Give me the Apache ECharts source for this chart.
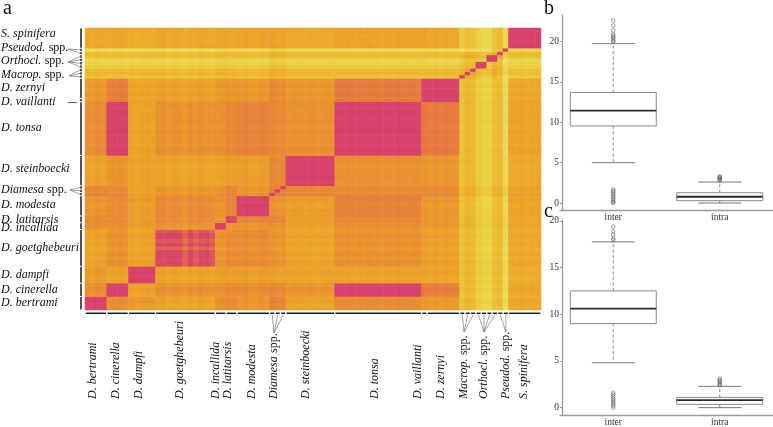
<!DOCTYPE html>
<html><head><meta charset="utf-8">
<style>html,body{margin:0;padding:0;background:#fff;overflow:hidden}#c{width:773px;height:427px}</style>
<script src="https://cdn.jsdelivr.net/npm/echarts@6/dist/echarts.min.js"></script>
</head><body><div id="c"></div>
<script>
// ---------- data ----------
const groupKeys = ['bert','cine','damp','goet','inca','lati','mode','diam','stei','tons','vail','zern','macr','orth','pseu','spin'];
const groupSizes = [4,4,5,11,2,2,6,3,9,16,1,6,3,4,2,6];
// between-group distances, upper triangle, each row starts at its own group
const distBert = [0.8,8.2,9.2,9.8,8.4,7.8,8.8,7.3,9.8,8,9,9,12,13.2,13,10.3];
const distCine = [0.8,9.8,8.4,8.4,7.8,8,7.8,8.8,0.8,6.3,6.3,12.2,13.2,13.2,10.3];
const distDamp = [0.8,9.8,9.4,9.4,9.4,9.8,9.8,9.8,9.8,9.8,12,13,13,11];
const distGoet = [1.5,8.8,7.8,7.8,8.8,9.8,8.4,9.4,9.4,12,13,13,10.3];
const distInca = [0.8,8.8,8.8,8.8,9.8,8.4,9,9,11.5,12.6,12.6,10.3];
const distLati = [0.8,7.2,7.3,9.4,7.4,8.8,8.8,11.5,12.6,12.6,10.3];
const distMode = [0.8,8.8,9.4,6.8,8.8,8.8,12,13,13,9.8];
const distDiam = [7,7.8,7.8,7.8,7.8,11,12,12,9.8];
const distStei = [0.8,8.4,8.8,8.8,12,13,13,10.5];
const distTons = [0.8,6,6,12,13,13.2,9.8];
const distVail = [0.8,1.2,12,13,13,9.8];
const distZern = [0.8,12,13,13,10.2];
const distMacr = [10,10.5,12.5,13];
const distOrth = [10.5,11.5,13.5];
const distPseu = [11,13];
const distSpin = [0.8];
const distRows = [distBert,distCine,distDamp,distGoet,distInca,distLati,distMode,distDiam,distStei,distTons,distVail,distZern,distMacr,distOrth,distPseu,distSpin];
// per-sample shifts (striping seen in rows and columns), one list per group
const shiftBert = [0,.3,-.2,.1];
const shiftCine = [.3,0,-.3,.2];
const shiftDamp = [0,.3,0,-.2,.1];
const shiftGoet = [0,-.2,.4,0,.2,.7,0,.3,-.2,.1,.4];
const shiftInca = [.1,-.1];
const shiftLati = [0,.2];
const shiftMode = [.1,-.2,.3,.4,-.1,.1];
const shiftDiam = [-.3,.1,0];
const shiftStei = [.1,-.1,0,.1,-.1,.2,.1,-.1,.1];
const shiftTons = [.1,0,-.1,.2,0,.2,-.1,.1,.3,0,.1,-.1,.1,.2,0,.1];
const shiftVail = [0];
const shiftZern = [.3,-.1,.4,0,.2,.4];
const shiftMacr = [1.5,0,.4];
const shiftOrth = [1.5,2.5,2.5,0];
const shiftPseu = [-.5,3.5];
const shiftSpin = [0,.2,-.1,.3,.1,-.1];
const shifts = [shiftBert,shiftCine,shiftDamp,shiftGoet,shiftInca,shiftLati,shiftMode,shiftDiam,shiftStei,shiftTons,shiftVail,shiftZern,shiftMacr,shiftOrth,shiftPseu,shiftSpin];
// stripes inside the D. goetghebeuri block
const goetStripes = [0,.8,0,0,.5,4.5,0,3,.5,0,2.5];
// species blocks among the last spp. samples (samples with the same letter are conspecific)
const sppBlocks = ['a','b','c','d','d','e','e','f','g'];
// box plots: [low whisker, q1, median, q3, high whisker]
const boxCategories = ['inter','intra'];
const boxB = [[5.0,9.55,11.44,13.7,19.75],[0,0.29,0.78,1.28,2.6]];
const boxC = [[4.8,9.0,10.6,12.5,17.75],[0,0.35,0.8,1.09,2.28]];
const outB = [[22.6,22,21.4,20.9,20.7,20.5,20.3,20.1,20,1.7,1.5,1.3,1.1,.9,.7,.5,.3,.1,0],[3.3,3.2,3.1,3,2.9,2.8]];
const outC = [[19.4,18.9,18.5,18.1,17.95,1.6,1.4,1.2,1,.8,.6,.4,.2,0],[3.1,2.95,2.8,2.65,2.5,2.4]];
const yTicks = [0,5,10,15,20];
const colorStops = ['#d63a6e','#da4b64','#e0644f','#e6783f','#e88a33','#eca327','#ecb42c','#ebc638','#ebd548','#eee070','#f4ee9c'];
// ---------- text and layout ----------
const leftLabels = [['S. spinifera',34],['Pseudod.',47.5,'spp.'],['Orthocl.',61,'spp.'],['Macrop.',75,'spp.'],['D. zernyi',88],['D. vaillanti',102],['D. tonsa',128],['D. steinboecki',169],['Diamesa',189.5,'spp.'],['D. modesta',205],['D. latitarsis',219.5],['D. incallida',228],['D. goetghebeuri',248],['D. dampfi',275],['D. cinerella',290],['D. bertrami',303]];
const bottomLabels = [['D. bertrami',93],['D. cinerella',116],['D. dampfi',139],['D. goetghebeuri',180],['D. incallida',216],['D. latitarsis',228],['D. modesta',252],['Diamesa',274,'spp.'],['D. steinboecki',306],['D. tonsa',375],['D. vaillanti',418],['D. zernyi',441],['Macrop.',464,'spp.'],['Orthocl.',484,'spp.'],['Pseudod.',506,'spp.'],['S. spinifera',524]];
const leaderTargets = {diam:[[70,190],[274,333]],macr:[[69,76],[464,332]],orth:[[68,62],[484,332]],pseu:[[68,49],[506,332]]};
const H = {left:85,top:28,width:456,height:282};

// ---------- build ----------
const sampleGroup=[], sampleShift=[], sampleNames=[], groupStart=[];
groupSizes.forEach((n,g)=>{groupStart.push(sampleGroup.length);for(let k=0;k<n;k++){sampleGroup.push(g);sampleShift.push(shifts[g][k]);sampleNames.push(groupKeys[g]+'_'+(k+1));}});
const N=sampleGroup.length, sppFirst=groupStart[12], goet=3;
function dist(a,b){return a<=b?distRows[a][b-a]:distRows[b][a-b];}
const cells=[];
for(let i=0;i<N;i++)for(let j=0;j<N;j++){
  const gi=sampleGroup[i],gj=sampleGroup[j];let v=dist(gi,gj);
  if(i>=sppFirst&&i<sppFirst+9&&j>=sppFirst&&j<sppFirst+9&&sppBlocks[i-sppFirst]===sppBlocks[j-sppFirst])v=0.8;
  else if(gi===7&&gj===7&&i===j)v=0.8;
  else if(gi===goet&&gj===goet)v=1.2+goetStripes[i-groupStart[goet]]*.6+goetStripes[j-groupStart[goet]]*.6;
  else if(v>1.3)v=v+sampleShift[i]+sampleShift[j];
  cells.push([i,j,v]);
}
const segs=[];
groupSizes.forEach((n,g)=>{const key=groupKeys[g];
  if(leaderTargets[key]){for(let k=0;k<n;k++)segs.push([groupStart[g]+k,groupStart[g]+k+1,g]);}
  else segs.push([groupStart[g],groupStart[g]+n,g]);});
const leaders=[];
Object.keys(leaderTargets).forEach(key=>{const g=groupKeys.indexOf(key);for(let k=0;k<groupSizes[g];k++)leaders.push([groupStart[g]+k+.5,g]);});
const segStyle={stroke:'#1a1a1a',lineWidth:1.5};
function renderSegs(horizontal){return function(params,api){
  const c0=api.coord([0,0]),cw=api.size([1,1]);
  const a=api.value(0),b=api.value(1);
  if(horizontal){const x0=c0[0]-cw[0]/2;
    return {type:'line',shape:{x1:x0+a*cw[0]+.7,x2:x0+b*cw[0]-.7,y1:313.3,y2:313.3},style:segStyle};}
  const y0=c0[1]+cw[1]/2;
  return {type:'line',shape:{x1:81,x2:81,y1:y0-a*cw[1]-.5,y2:y0-b*cw[1]+.5},style:segStyle};
};}
function renderLeaders(params,api){
  const c0=api.coord([0,0]),cw=api.size([1,1]);
  const s=api.value(0),key=groupKeys[api.value(1)],t=leaderTargets[key];
  const px=c0[0]-cw[0]/2+s*cw[0],py=c0[1]+cw[1]/2-s*cw[1];
  const st={stroke:'#777',lineWidth:.7,fill:'none'};
  return {type:'group',children:[
    {type:'line',shape:{x1:80,y1:py,x2:t[0][0],y2:t[0][1]},style:st},
    {type:'line',shape:{x1:px,y1:315,x2:t[1][0],y2:t[1][1]},style:st}]};
}
function renderBox(params,api){
  const cat=api.value(0),low=api.coord([cat,api.value(1)]),q1=api.coord([cat,api.value(2)]),med=api.coord([cat,api.value(3)]),q3=api.coord([cat,api.value(4)]),high=api.coord([cat,api.value(5)]);
  const x=low[0],hb=43,hc=21.5;
  const grey={stroke:'#777',lineWidth:1,fill:'none'};
  return {type:'group',children:[
    {type:'line',shape:{x1:x,y1:q3[1],x2:x,y2:high[1]},style:{stroke:'#888',lineWidth:1,lineDash:[3,2.5]}},
    {type:'line',shape:{x1:x,y1:q1[1],x2:x,y2:low[1]},style:{stroke:'#888',lineWidth:1,lineDash:[3,2.5]}},
    {type:'line',shape:{x1:x-hc,y1:high[1],x2:x+hc,y2:high[1]},style:grey},
    {type:'line',shape:{x1:x-hc,y1:low[1],x2:x+hc,y2:low[1]},style:grey},
    {type:'rect',shape:{x:x-hb,y:q3[1],width:2*hb,height:q1[1]-q3[1]},style:{stroke:'#888',lineWidth:1,fill:'#fff'}},
    {type:'line',shape:{x1:x-hb,y1:med[1],x2:x+hb,y2:med[1]},style:{stroke:'#2b2b2b',lineWidth:1.8}}
  ]};
}
function boxData(b){return b.map((r,i)=>[i].concat(r));}
function outData(o){const d=[];o.forEach((a,i)=>a.forEach(v=>d.push([i,v])));return d;}
function axisX(gi){return {gridIndex:gi,type:'category',data:boxCategories,boundaryGap:true,
  axisLine:{onZero:false,lineStyle:{color:'#999',width:1.3}},axisTick:{show:false},
  axisLabel:{color:'#333',fontFamily:'Liberation Serif',fontSize:9.5,margin:2,interval:0}};}
function axisY(gi,min,max){return {gridIndex:gi,type:'value',min,max,offset:-2,splitLine:{show:false},
  axisLine:{show:true,onZero:false,lineStyle:{color:'#999',width:1.3}},
  axisTick:{show:true,length:2,lineStyle:{color:'#999'},customValues:yTicks},
  axisLabel:{color:'#333',fontFamily:'Liberation Serif',fontSize:9.5,margin:3,customValues:yTicks}};}
const boxStyle={symbol:'circle',symbolSize:3.6,itemStyle:{color:'rgba(255,255,255,0)',borderColor:'#555',borderWidth:.7}};
const serif='"Liberation Serif"';
function textEl(l,x,y,rot){
  const t=l[2]?'{i|'+l[0]+'} {r|'+l[2]+'}':'{i|'+l[0]+'}';
  const rich={i:{fontStyle:'italic',fontFamily:serif,fontSize:12,fill:'#111'},r:{fontFamily:serif,fontSize:12,fill:'#111'}};
  return {type:'text',x,y,rotation:rot,silent:true,style:{text:t,rich,align:'left',verticalAlign:'middle',fill:'#111'}};
}
const graphics=[];
leftLabels.forEach(l=>graphics.push(textEl(l,1,l[1],0)));
bottomLabels.forEach(l=>graphics.push(textEl(l,l[1],399,Math.PI/2)));
graphics.push({type:'line',shape:{x1:68,y1:102.5,x2:77,y2:102.5},style:{stroke:'#333',lineWidth:.8}});
[['a',3,9],['b',544,9],['c',544,212]].forEach(a=>graphics.push({type:'text',x:a[1],y:a[2],style:{text:a[0],fontFamily:serif,fontSize:20,fill:'#111',align:'left',verticalAlign:'middle'}}));

const chart=echarts.init(document.getElementById('c'),null,{renderer:'canvas'});
chart.setOption({
  animation:false,backgroundColor:'#fff',
  grid:[{left:H.left,top:H.top,width:H.width,height:H.height},
        {left:560,top:15,width:215.5,height:195.7},
        {left:560,top:220,width:215.5,height:198.5}],
  xAxis:[{gridIndex:0,type:'category',data:sampleNames,show:false},axisX(1),axisX(2)],
  yAxis:[{gridIndex:0,type:'category',data:sampleNames,show:false},axisY(1,-0.95,23.3),axisY(2,-0.79,20.1)],
  visualMap:{show:false,seriesIndex:0,dimension:2,min:0,max:20,inRange:{color:colorStops}},
  graphic:graphics,
  series:[
    {type:'heatmap',xAxisIndex:0,yAxisIndex:0,data:cells,progressive:0,itemStyle:{borderWidth:0}},
    {type:'custom',xAxisIndex:0,yAxisIndex:0,data:segs,renderItem:renderSegs(true),silent:true,clip:false},
    {type:'custom',xAxisIndex:0,yAxisIndex:0,data:segs,renderItem:renderSegs(false),silent:true,clip:false},
    {type:'custom',xAxisIndex:0,yAxisIndex:0,data:leaders,renderItem:renderLeaders,silent:true,clip:false},
    {type:'custom',xAxisIndex:1,yAxisIndex:1,data:boxData(boxB),renderItem:renderBox,encode:{x:0,y:[1,2,3,4,5]},silent:true},
    Object.assign({type:'scatter',xAxisIndex:1,yAxisIndex:1,data:outData(outB),silent:true},boxStyle),
    {type:'custom',xAxisIndex:2,yAxisIndex:2,data:boxData(boxC),renderItem:renderBox,encode:{x:0,y:[1,2,3,4,5]},silent:true},
    Object.assign({type:'scatter',xAxisIndex:2,yAxisIndex:2,data:outData(outC),silent:true},boxStyle)
  ]
});
</script></body></html>
